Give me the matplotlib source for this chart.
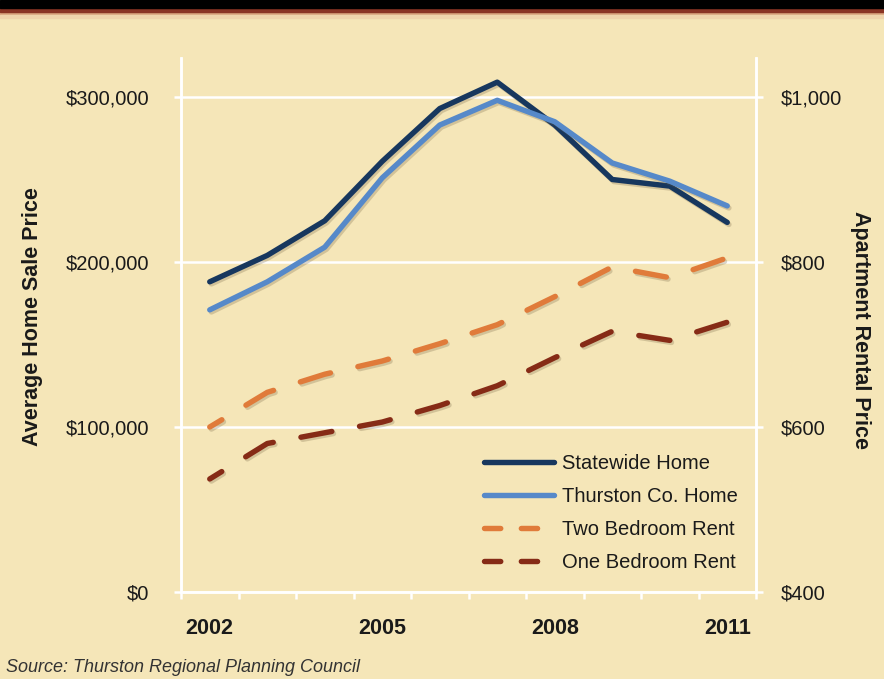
import matplotlib
matplotlib.use("Agg")
import matplotlib.pyplot as plt
import matplotlib.patheffects as pe
from matplotlib import font_manager
from matplotlib.lines import Line2D
from matplotlib.ticker import FuncFormatter, FixedLocator, NullFormatter
import numpy as np

# ---- data ----
years = [2002, 2003, 2004, 2005, 2006, 2007, 2008, 2009, 2010, 2011]
statewide_home = [188000, 204000, 225000, 261000, 293000, 309000, 283000, 250000, 246000, 224000]
thurston_home = [171000, 188000, 209000, 251000, 283000, 298000, 285000, 260000, 249000, 234000]
two_bed_rent = [600, 642, 664, 680, 701, 724, 758, 794, 781, 805]
one_bed_rent = [537, 580, 593, 606, 626, 650, 684, 716, 705, 727]
year_labels = ["2002", "2005", "2008", "2011"]
left_ticks = [0, 100000, 200000, 300000]
right_ticks = [400, 600, 800, 1000]
series_names = ["Statewide Home", "Thurston Co. Home", "Two Bedroom Rent", "One Bedroom Rent"]

# ---- fonts ----
available = {f.name for f in font_manager.fontManager.ttflist}
narrow = "Liberation Sans Narrow" if "Liberation Sans Narrow" in available else "Liberation Sans"
plt.rcParams["font.family"] = [narrow, "DejaVu Sans"]

BG = "#F5E6B8"
NAVY = "#17375E"
LBLUE = "#5689C9"
ORANGE = "#E07B3A"
BROWN = "#862B16"
TEXT = "#1A1A1A"

W, H = 884, 679
fig = plt.figure(figsize=(W / 100, H / 100), dpi=100, facecolor=BG)

# top banner
fig.add_artist(plt.Rectangle((0, 1 - 8 / H), 1, 8 / H, transform=fig.transFigure,
                             color="black", zorder=5))
fig.add_artist(plt.Rectangle((0, 1 - 12 / H), 1, 4 / H, transform=fig.transFigure,
                             color="#8A3424", zorder=4))
fig.add_artist(plt.Rectangle((0, 1 - 15 / H), 1, 3 / H, transform=fig.transFigure,
                             color="#D9A47E", zorder=3))
fig.add_artist(plt.Rectangle((0, 1 - 18 / H), 1, 3 / H, transform=fig.transFigure,
                             color="#EFD4AC", zorder=3))

left, right, bottom, top = 181, 756, 592, 58
ax = fig.add_axes([left / W, 1 - bottom / H, (right - left) / W, (bottom - top) / H])
ax.set_facecolor(BG)
ax2 = ax.twinx()

x = np.arange(len(years))
ax.set_xlim(-0.5, len(years) - 0.5)

ax.set_ylim(0, 300000 * (bottom - top) / (bottom - 97))
ax2.set_ylim(400, 400 + 600 * (bottom - top) / (bottom - 97))

shadow = [pe.SimpleLineShadow(offset=(1.2, -1.5), shadow_color="#6b5a3a", alpha=0.25),
          pe.Normal()]

lw = 3.9
dash_style = (3.2, (5.8, 5.2))
ax.plot(x, statewide_home, color=NAVY, lw=lw, solid_capstyle="round",
        solid_joinstyle="round", path_effects=shadow, zorder=4)
ax.plot(x, thurston_home, color=LBLUE, lw=lw, solid_capstyle="round",
        solid_joinstyle="round", path_effects=shadow, zorder=4)
ax2.plot(x, two_bed_rent, color=ORANGE, lw=lw, linestyle=dash_style,
         dash_capstyle="round", dash_joinstyle="round", path_effects=shadow, zorder=4)
ax2.plot(x, one_bed_rent, color=BROWN, lw=lw, linestyle=dash_style,
         dash_capstyle="round", dash_joinstyle="round", path_effects=shadow, zorder=4)

# gridlines
ax.set_yticks(left_ticks)
ax.yaxis.grid(True, color="white", lw=1.8, zorder=1)
ax.set_axisbelow(True)

money = FuncFormatter(lambda v, p: "${:,.0f}".format(v))
ax.yaxis.set_major_formatter(money)
ax2.set_yticks(right_ticks)
ax2.yaxis.set_major_formatter(money)

# category axis: labels at selected years, ticks between categories
label_pos = [years.index(int(y)) for y in year_labels]
ax.xaxis.set_major_locator(FixedLocator(label_pos))
ax.set_xticklabels(year_labels)
ax.xaxis.set_minor_locator(FixedLocator(np.arange(-0.5, len(years), 1.0)))
ax.xaxis.set_minor_formatter(NullFormatter())
ax.tick_params(axis="x", which="major", length=0, pad=19, labelsize=15.5,
               labelcolor=TEXT)
for t in ax.get_xticklabels():
    t.set_fontweight("bold")
ax.tick_params(axis="x", which="minor", length=5, width=1.8, color="white",
               direction="out")

ax.tick_params(axis="y", length=5, width=1.8, color="white", direction="out",
               pad=18, labelsize=14.5, labelcolor=TEXT)
ax2.tick_params(axis="y", length=5, width=1.8, color="white", direction="out",
                pad=13, labelsize=14.5, labelcolor=TEXT)

for a in (ax, ax2):
    for s in a.spines.values():
        s.set_color("white")
        s.set_linewidth(1.8)
    a.spines["top"].set_visible(False)

# axis titles
fig.text(33 / W, 1 - 317 / H, "Average Home Sale Price", rotation=90, ha="center",
         va="center", fontsize=15.5, fontweight="bold", color=TEXT)
fig.text(861 / W, 1 - 330 / H, "Apartment Rental Price", rotation=-90, ha="center",
         va="center", fontsize=15.5, fontweight="bold", color=TEXT)

# legend
handles = [
    Line2D([], [], color=NAVY, lw=lw, solid_capstyle="round"),
    Line2D([], [], color=LBLUE, lw=lw, solid_capstyle="round"),
    Line2D([], [], color=ORANGE, lw=lw, dashes=(3.0, 3.8), dash_capstyle="round"),
    Line2D([], [], color=BROWN, lw=lw, dashes=(3.0, 3.8), dash_capstyle="round"),
]
leg = ax.legend(handles, series_names, loc="upper left",
                bbox_to_anchor=(484 / W, 1 - 454 / H), bbox_transform=fig.transFigure,
                frameon=False, fontsize=14.5, handlelength=3.5, handletextpad=0.35,
                labelspacing=0.70, borderaxespad=0, borderpad=0)
for t in leg.get_texts():
    t.set_color(TEXT)
leg.set_zorder(10)

# source note
fig.text(6 / W, 1 - 668 / H, "Source: Thurston Regional Planning Council",
         ha="left", va="center", fontsize=13, fontstyle="italic", color="#333333")

fig.savefig("out.png", dpi=100, facecolor=BG)
